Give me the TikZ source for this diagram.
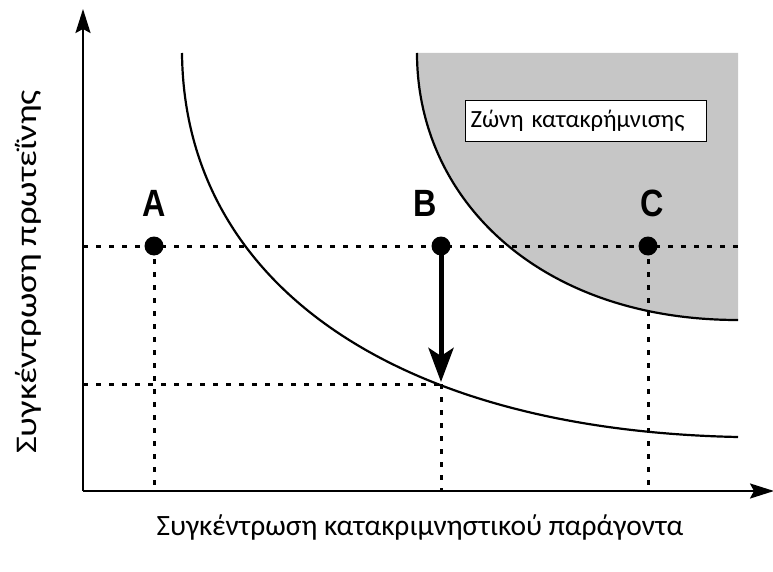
\documentclass[tikz,border=0pt]{standalone}
\usepackage{fontspec}
\setmainfont{Carlito}
\newfontfamily\abcfont{Liberation Sans}
\usetikzlibrary{arrows.meta}
\definecolor{zonegray}{RGB}{198,198,198}
\begin{document}
\begin{tikzpicture}[x=1pt,y=-1pt,
  axisline/.style={line width=2.4pt,-{Stealth[length=24pt,width=15pt,inset=4pt]}},
  curveline/.style={line width=2.2pt},
  dotline/.style={line width=3pt,dash pattern=on 5pt off 8pt},
  ptdot/.style={circle,fill=black,inner sep=0pt,minimum size=19pt},
  letter/.style={font=\abcfont\bfseries\fontsize{38}{38}\selectfont,xscale=0.85},
  bigarrow/.style={line width=5pt,-{Stealth[length=34pt,width=25pt,inset=8pt]}},
  zonebox/.style={draw,fill=white,line width=1.3pt,text width=231pt,inner xsep=5pt,minimum height=41pt,inner ysep=0pt,align=left,font=\fontsize{24.7}{25}\selectfont}
]
\useasboundingbox (0,0) rectangle (773,572);
% precipitation zone
\fill[zonegray] (738,53) -- (417,53) .. controls (417,200) and (540,320) .. (738,320) -- cycle;
\draw[curveline] (417,53) .. controls (417,200) and (540,320) .. (738,320);
% solubility curve
\draw[curveline] (182,53) .. controls (184,280) and (390,430) .. (738,437);
\node[zonebox] (zone) at (586,121) {Ζώνη κατακρήμνισης};
% axes
\coordinate (O) at (83,491);
\coordinate (ytip) at (83,9);
\coordinate (xtip) at (774,491);
\draw[axisline] (O) -- (ytip);
\draw[axisline] (O) -- (xtip);
% guide points
\coordinate (hl) at (83,246);
\coordinate (hr) at (738,246);
\coordinate (ll) at (83,384);
\coordinate (lr) at (441,384);
\coordinate (Ax) at (154,491);
\coordinate (Bx) at (441,491);
\coordinate (Cx) at (648,491);
\coordinate (Bend) at (441,382);
\draw[dotline] (hl) -- (hr);
\draw[dotline] (ll) -- (lr);
\draw[dotline] (154,246) -- (Ax);
\draw[dotline] (lr) -- (Bx);
\draw[dotline] (648,246) -- (Cx);
\node[ptdot] (A) at (154,246) {};
\node[ptdot] (B) at (441,246) {};
\node[ptdot] (C) at (648,246) {};
\draw[bigarrow] (B.center) -- (Bend);
\node[letter] (lA) at (154,203) {A};
\node[letter] (lB) at (425,203) {B};
\node[letter] (lC) at (652,203) {C};
\node[font=\fontsize{29.5}{30}\selectfont] (xl) at (420,527) {Συγκέντρωση κατακριμνηστικού παράγοντα};
\node[font=\fontsize{30}{30}\selectfont,rotate=90,inner sep=0pt] (yl) at (28,272) {\scalebox{1.22}[1]{Συγκέντρωση πρωτεΐνης}};
\end{tikzpicture}
\end{document}
